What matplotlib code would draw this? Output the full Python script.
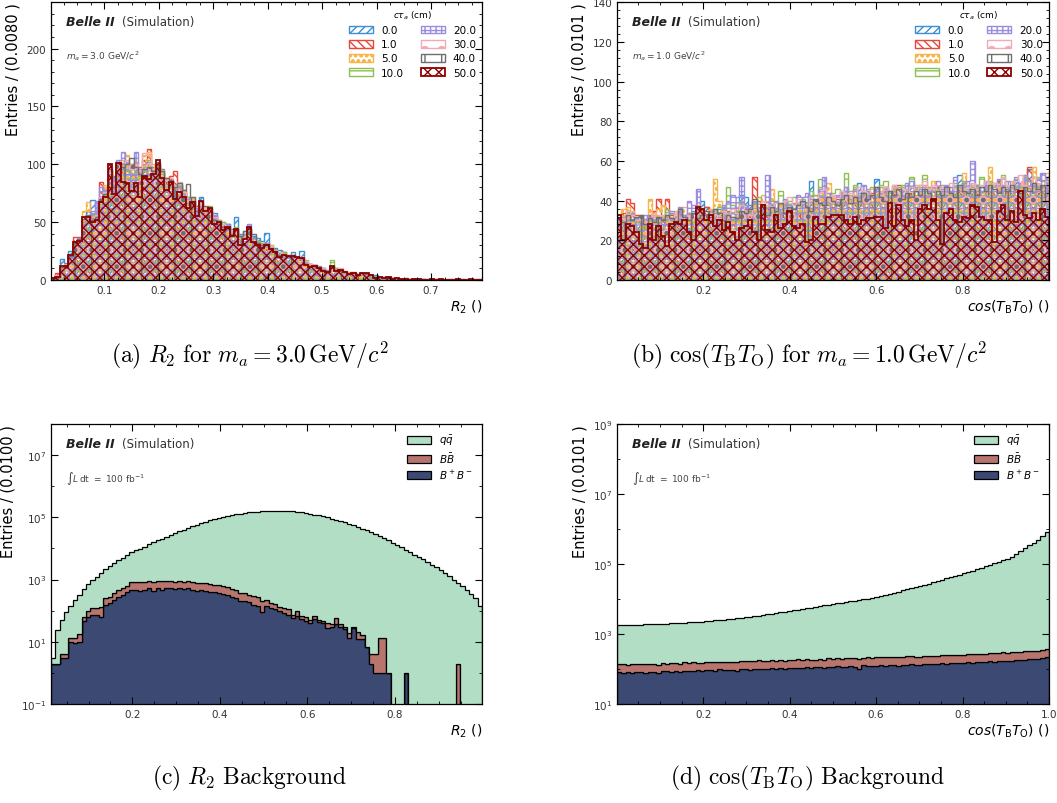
import numpy as np
import matplotlib.pyplot as plt
from matplotlib import ticker

# ---------------- (a) R2 signal, m_a = 3.0 GeV/c^2 ----------------
ctau_labels = ['0.0', '1.0', '5.0', '10.0', '20.0', '30.0', '40.0', '50.0']

r2_ct00 = [1, 4, 18, 15, 25, 30, 36, 50, 60, 69,
           62, 72, 80, 88, 90, 95, 100, 92, 98, 95,
           88, 96, 92, 98, 100, 96, 85, 80, 78, 82,
           75, 70, 68, 64, 72, 62, 60, 58, 52, 50,
           48, 44, 54, 40, 42, 45, 38, 36, 34, 41,
           30, 28, 26, 24, 22, 24, 20, 25, 16, 14,
           13, 12, 10, 9, 12, 10, 8, 7, 6, 7,
           5, 6, 5, 4, 4, 3, 3, 2, 2, 2,
           1, 2, 1, 1, 0, 1, 0, 1, 1, 0,
           0, 1, 0, 0, 1, 0, 0, 0, 0]
r2_ct01 = [2, 6, 10, 14, 20, 37, 37, 52, 50, 55,
           60, 85, 78, 92, 88, 96, 98, 94, 100, 96,
           98, 104, 113, 96, 98, 92, 88, 90, 94, 80,
           78, 72, 66, 64, 66, 60, 58, 55, 50, 46,
           44, 40, 42, 36, 38, 40, 32, 34, 30, 32,
           28, 26, 22, 24, 20, 22, 18, 17, 15, 12,
           13, 11, 10, 8, 10, 9, 7, 8, 6, 5,
           5, 4, 5, 3, 3, 2, 3, 2, 2, 1,
           1, 1, 1, 0, 1, 1, 0, 0, 1, 0,
           0, 0, 1, 0, 0, 0, 0, 1, 1]
r2_ct05 = [1, 3, 8, 14, 22, 30, 34, 60, 67, 55,
           58, 70, 82, 96, 86, 100, 104, 108, 100, 102,
           94, 108, 111, 100, 98, 95, 88, 84, 80, 82,
           76, 70, 72, 62, 66, 63, 58, 52, 50, 48,
           46, 42, 44, 38, 40, 38, 35, 30, 32, 28,
           30, 26, 24, 22, 20, 22, 18, 20, 15, 14,
           12, 11, 9, 8, 10, 9, 8, 6, 7, 5,
           4, 5, 4, 3, 3, 3, 2, 2, 1, 2,
           1, 1, 1, 1, 0, 1, 0, 0, 0, 1,
           0, 1, 0, 0, 0, 1, 0, 0, 0]
r2_ct10 = [1, 3, 10, 13, 20, 32, 35, 50, 52, 56,
           60, 70, 76, 94, 82, 100, 96, 100, 92, 94,
           90, 98, 104, 96, 95, 92, 86, 80, 78, 82,
           76, 72, 64, 60, 64, 58, 64, 54, 52, 50,
           48, 42, 46, 38, 40, 44, 36, 34, 32, 30,
           28, 26, 22, 24, 22, 20, 20, 18, 17, 14,
           13, 11, 9, 8, 17, 10, 8, 7, 6, 6,
           5, 5, 4, 3, 3, 3, 2, 2, 2, 1,
           1, 1, 1, 0, 1, 0, 1, 0, 0, 0,
           1, 0, 0, 0, 1, 0, 0, 0, 0]
r2_ct20 = [1, 3, 9, 12, 20, 30, 36, 52, 55, 60,
           68, 80, 78, 94, 88, 104, 111, 102, 98, 111,
           96, 100, 102, 94, 96, 88, 86, 82, 78, 80,
           74, 70, 68, 62, 64, 60, 60, 56, 50, 46,
           48, 42, 44, 38, 40, 48, 36, 32, 30, 32,
           28, 24, 22, 22, 20, 22, 19, 18, 15, 14,
           12, 11, 10, 8, 11, 9, 8, 7, 5, 6,
           5, 5, 4, 4, 3, 3, 2, 2, 2, 1,
           1, 1, 0, 1, 0, 1, 1, 0, 0, 0,
           0, 0, 1, 0, 0, 0, 0, 0, 1]
r2_ct30 = [2, 4, 11, 13, 22, 31, 35, 52, 54, 52,
           56, 72, 76, 98, 84, 100, 98, 104, 96, 100,
           94, 110, 108, 96, 100, 90, 86, 88, 82, 85,
           76, 68, 66, 60, 66, 62, 60, 54, 50, 48,
           46, 42, 42, 36, 38, 44, 34, 32, 30, 30,
           28, 26, 24, 22, 22, 20, 18, 20, 16, 14,
           12, 11, 10, 8, 12, 9, 10, 7, 6, 5,
           5, 5, 4, 4, 3, 3, 2, 2, 1, 1,
           1, 1, 1, 0, 1, 0, 0, 1, 0, 0,
           0, 1, 0, 0, 0, 0, 1, 0, 0]
r2_ct40 = [2, 3, 11, 12, 21, 32, 35, 53, 56, 52,
           54, 70, 74, 96, 80, 102, 98, 100, 105, 98,
           92, 96, 98, 94, 102, 94, 88, 86, 80, 84,
           78, 83, 72, 60, 68, 64, 62, 52, 50, 46,
           46, 40, 44, 38, 42, 44, 40, 32, 30, 31,
           28, 25, 22, 22, 21, 20, 20, 19, 14, 12,
           12, 10, 9, 8, 12, 9, 9, 7, 5, 6,
           4, 6, 5, 4, 3, 3, 2, 3, 1, 2,
           1, 1, 0, 1, 1, 0, 0, 1, 0, 1,
           0, 0, 0, 1, 0, 0, 1, 0, 0]
r2_ct50 = [2, 3, 12, 12, 22, 33, 34, 54, 54, 50,
           52, 67, 72, 100, 74, 101, 85, 84, 77, 84,
           72, 90, 87, 92, 104, 88, 78, 85, 70, 76,
           72, 62, 67, 55, 68, 60, 62, 48, 50, 43,
           46, 38, 44, 30, 35, 46, 33, 30, 28, 30,
           27, 24, 20, 22, 21, 21, 20, 19, 13, 11,
           12, 10, 8, 7, 12, 8, 9, 7, 5, 6,
           4, 6, 6, 4, 2, 3, 2, 3, 1, 2,
           1, 1, 0, 1, 1, 0, 0, 1, 0, 1,
           0, 0, 0, 1, 0, 0, 1, 0, 0]

# ---------------- (b) cos(TB TO) signal, m_a = 1.0 GeV/c^2 ----------------
cos_ct00 = [33, 30, 32, 28, 30, 31, 26, 33, 32, 29,
            31, 28, 34, 30, 27, 33, 26, 35, 33, 40,
            37, 34, 35, 36, 37, 33, 30, 35, 43, 42,
            38, 31, 30, 36, 33, 37, 35, 34, 32, 38,
            36, 30, 40, 34, 50, 38, 42, 40, 35, 39,
            38, 41, 40, 36, 39, 49, 40, 41, 37, 51,
            44, 42, 40, 45, 38, 41, 43, 47, 39, 44,
            42, 45, 40, 46, 42, 45, 43, 47, 53, 44,
            40, 46, 42, 45, 44, 48, 42, 48, 43, 46,
            44, 50, 45, 47, 56, 44, 47, 45, 52]
cos_ct01 = [30, 34, 41, 39, 33, 30, 28, 33, 35, 41,
            30, 41, 33, 29, 35, 30, 34, 31, 29, 36,
            37, 35, 30, 33, 31, 35, 28, 34, 30, 36,
            35, 52, 40, 38, 36, 32, 35, 37, 34, 36,
            33, 35, 32, 38, 36, 40, 42, 43, 38, 40,
            41, 38, 45, 40, 43, 38, 41, 39, 44, 47,
            40, 47, 42, 45, 48, 41, 43, 44, 42, 46,
            40, 44, 45, 47, 43, 41, 45, 42, 46, 44,
            45, 43, 48, 44, 47, 42, 45, 50, 46, 44,
            43, 47, 45, 48, 57, 46, 44, 47, 50]
cos_ct05 = [30, 36, 37, 35, 32, 33, 30, 41, 34, 36,
            38, 33, 32, 35, 30, 37, 34, 32, 38, 33,
            30, 36, 51, 40, 35, 33, 32, 37, 30, 35,
            33, 38, 36, 43, 40, 46, 35, 38, 40, 36,
            34, 38, 37, 36, 40, 38, 42, 44, 49, 42,
            40, 44, 39, 43, 46, 41, 44, 45, 40, 43,
            45, 46, 42, 47, 44, 43, 46, 45, 48, 44,
            42, 47, 50, 45, 44, 46, 43, 45, 47, 54,
            45, 46, 48, 44, 47, 57, 43, 48, 46, 45,
            50, 47, 49, 53, 46, 57, 48, 47, 54]
cos_ct10 = [28, 32, 34, 30, 29, 31, 27, 30, 33, 29,
            31, 36, 30, 32, 34, 30, 33, 29, 31, 35,
            32, 30, 34, 37, 36, 47, 38, 35, 40, 37,
            36, 39, 42, 38, 37, 40, 36, 45, 38, 40,
            42, 39, 41, 38, 45, 43, 51, 45, 42, 44,
            46, 43, 54, 45, 48, 44, 42, 46, 47, 45,
            48, 50, 44, 46, 47, 48, 45, 52, 46, 48,
            53, 47, 45, 46, 48, 44, 47, 49, 48, 50,
            46, 48, 47, 52, 46, 50, 48, 49, 53, 47,
            45, 51, 49, 52, 47, 48, 52, 50, 49]
cos_ct20 = [30, 32, 30, 34, 31, 29, 33, 32, 30, 31,
            28, 33, 35, 32, 37, 33, 40, 38, 46, 34,
            33, 35, 36, 32, 38, 40, 43, 42, 52, 38,
            36, 40, 37, 35, 53, 38, 40, 36, 41, 38,
            39, 43, 42, 44, 41, 40, 46, 52, 44, 42,
            43, 45, 47, 41, 46, 44, 48, 45, 43, 46,
            44, 47, 45, 48, 44, 46, 49, 50, 47, 46,
            48, 45, 47, 50, 46, 48, 47, 52, 47, 49,
            50, 60, 48, 47, 50, 46, 49, 51, 48, 50,
            47, 52, 49, 53, 50, 48, 51, 54, 52]
cos_ct30 = [28, 31, 35, 33, 30, 32, 29, 31, 34, 30,
            33, 31, 29, 34, 32, 30, 33, 31, 36, 30,
            32, 34, 33, 31, 35, 33, 36, 34, 38, 35,
            33, 37, 35, 40, 38, 36, 39, 37, 40, 42,
            38, 41, 39, 36, 42, 40, 44, 46, 41, 43,
            40, 45, 42, 44, 43, 47, 45, 41, 46, 44,
            43, 47, 45, 48, 44, 46, 43, 47, 45, 48,
            50, 46, 48, 45, 47, 44, 49, 46, 48, 45,
            47, 49, 46, 48, 50, 46, 49, 47, 52, 48,
            46, 50, 53, 48, 47, 52, 49, 46, 50]
cos_ct40 = [31, 29, 33, 30, 32, 33, 28, 31, 29, 32,
            30, 33, 31, 29, 36, 32, 30, 34, 31, 33,
            35, 32, 36, 34, 30, 33, 32, 31, 35, 34,
            36, 41, 35, 38, 33, 37, 35, 39, 34, 37,
            36, 38, 40, 37, 35, 41, 39, 38, 42, 40,
            38, 41, 43, 39, 42, 40, 44, 41, 43, 47,
            42, 40, 45, 43, 46, 41, 44, 42, 45, 43,
            46, 44, 41, 45, 43, 47, 44, 42, 48, 45,
            44, 46, 43, 47, 45, 48, 46, 44, 47, 45,
            48, 46, 44, 47, 45, 49, 46, 48, 40]
cos_ct50 = [33, 20, 28, 27, 24, 18, 16, 28, 20, 27,
            22, 17, 28, 29, 28, 30, 24, 20, 37, 36,
            30, 33, 27, 30, 25, 29, 24, 20, 26, 27,
            30, 24, 20, 38, 25, 24, 33, 26, 28, 35,
            27, 26, 28, 19, 20, 32, 28, 28, 32, 33,
            33, 33, 30, 28, 32, 28, 30, 31, 31, 32,
            32, 26, 39, 27, 38, 30, 27, 30, 20, 36,
            38, 36, 41, 30, 18, 34, 36, 30, 29, 32,
            31, 38, 37, 32, 30, 30, 19, 35, 38, 30,
            35, 29, 45, 33, 31, 34, 30, 36, 32]

# ---------------- (c) R2 background ----------------
r2_bpbm = [2, 2, 3, 3, 10, 9, 10, 48, 65, 74,
           75, 65, 155, 175, 222, 283, 324, 410, 466, 466,
           440, 466, 525, 440, 540, 466, 525, 525, 490, 540,
           500, 525, 466, 440, 466, 440, 410, 390, 360, 340,
           310, 270, 260, 210, 200, 185, 155, 140, 92, 140,
           120, 110, 100, 85, 75, 60, 70, 55, 45, 40,
           55, 42, 40, 28, 30, 38, 30, 25, 13, 27,
           12, 12, 7, 2, 1, 1, 1, 1, 0, 0,
           0, 1, 0, 0, 0, 0, 0, 0, 0, 0,
           0, 0, 0, 0, 0, 0, 0, 0, 0]
r2_bbbar = [0, 0, 1, 1, 3, 4, 8, 17, 35, 46,
            45, 70, 95, 108, 158, 167, 196, 230, 384, 394,
            380, 374, 375, 380, 390, 404, 375, 355, 370, 360,
            350, 355, 354, 340, 324, 320, 310, 300, 290, 260,
            250, 230, 200, 170, 160, 145, 135, 138, 112, 84,
            60, 50, 30, 35, 35, 15, 25, 15, 18, 10,
            12, 10, 8, 12, 6, 22, 6, 5, 6, 3,
            8, 4, 0, 2, 3, 12, 12, 0, 0, 0,
            0, 0, 0, 0, 0, 0, 0, 0, 0, 0,
            0, 0, 0, 2, 0, 0, 0, 0, 0]
r2_qqbar = [1, 22, 47, 89, 126, 200, 302, 417, 603, 832,
            1120, 1480, 1900, 2400, 3020, 3720, 4570, 5500, 6600, 7760,
            9120, 10700, 12600, 14800, 17400, 19950, 22900, 26300, 30200, 34700,
            39800, 45700, 51300, 57500, 64600, 72400, 79400, 87100, 95500, 102300,
            109600, 117500, 125900, 131800, 138000, 144500, 147900, 151400, 154900, 158500,
            162200, 162200, 162200, 162200, 158500, 154900, 151400, 144500, 138000, 131800,
            123000, 114800, 107200, 100000, 91200, 83200, 75900, 69200, 61700, 55000,
            49000, 43700, 38000, 33100, 28800, 25100, 21400, 18200, 15500, 13200,
            11000, 9120, 7590, 6310, 5370, 4470, 3720, 3020, 2460, 2000,
            1590, 1260, 1000, 776, 603, 457, 339, 251, 145]

# ---------------- (d) cos(TB TO) background ----------------
cos_bpbm = [80, 78, 82, 76, 80, 84, 79, 83, 81, 77,
            86, 85, 84, 88, 82, 90, 87, 89, 92, 88,
            95, 93, 90, 97, 92, 96, 94, 88, 99, 97,
            96, 100, 103, 98, 101, 105, 100, 104, 99, 108,
            106, 110, 104, 112, 108, 111, 115, 109, 117, 113,
            120, 114, 118, 122, 116, 103, 128, 124, 120, 126,
            130, 125, 132, 128, 122, 134, 130, 137, 131, 127,
            140, 136, 142, 138, 145, 141, 148, 144, 150, 146,
            155, 152, 158, 162, 156, 165, 160, 168, 172, 166,
            175, 180, 178, 185, 190, 188, 196, 200, 215]
cos_bbbar = [55, 58, 52, 60, 56, 54, 62, 57, 59, 55,
             61, 58, 63, 60, 57, 64, 62, 66, 59, 63,
             65, 62, 68, 64, 70, 66, 63, 69, 67, 72,
             70, 68, 74, 71, 66, 75, 73, 77, 70, 76,
             74, 79, 72, 80, 77, 75, 82, 78, 85, 80,
             83, 79, 86, 82, 88, 95, 84, 90, 87, 92,
             89, 94, 91, 86, 96, 92, 98, 95, 93, 100,
             97, 102, 99, 105, 101, 108, 104, 110, 106, 112,
             115, 110, 118, 114, 120, 117, 124, 121, 128, 125,
             130, 134, 128, 138, 135, 142, 140, 148, 152]
cos_qqbar = [1660, 1670, 1680, 1690, 1700, 1720, 1740, 1760, 1780, 1800,
             1830, 1850, 1880, 1900, 1930, 1960, 2000, 2030, 2070, 2110,
             2150, 2210, 2280, 2340, 2410, 2480, 2560, 2640, 2720, 2800,
             2900, 3030, 3170, 3300, 3450, 3600, 3780, 3970, 4150, 4350,
             4550, 4780, 5000, 5250, 5500, 5780, 6050, 6350, 6650, 6950,
             7300, 7650, 8000, 8400, 8800, 9200, 9650, 10100, 10600, 11100,
             11800, 12800, 13800, 14900, 16000, 17300, 18700, 20100, 21800, 23500,
             25300, 27500, 30000, 32500, 35500, 38500, 42000, 45500, 49500, 54000,
             59000, 64500, 71000, 78000, 86000, 95000, 105000, 116000, 128000, 140000,
             160000, 190000, 230000, 280000, 340000, 410000, 500000, 650000, 830000]

sig_colors = ['#3d8fd6', '#e8473a', '#f7b54c', '#8cc152',
              '#9a8ce0', '#f5a9b4', '#6e6e6e', '#8b0000']
sig_hatches = ['////', '\\\\\\\\', 'ooo', '--', '+++', 'o', '|.', 'xxx']
bkg_colors = {'bpbm': '#3c4a73', 'bbbar': '#b8756e', 'qqbar': '#b1dec4'}


def style_axes(ax, log=False):
    ax.tick_params(which='both', direction='in', top=True, right=True,
                   labelsize=7.5, labelcolor='#333333')
    ax.tick_params(which='major', length=5, width=0.8)
    ax.tick_params(which='minor', length=2.5, width=0.6)
    ax.xaxis.set_minor_locator(ticker.AutoMinorLocator(4))
    if not log:
        ax.yaxis.set_minor_locator(ticker.AutoMinorLocator(5))
    for s in ax.spines.values():
        s.set_linewidth(0.9)


def belle_label(ax, extra):
    ax.text(0.035, 0.93, 'Belle II', transform=ax.transAxes, fontsize=9,
            fontweight='bold', fontstyle='italic', color='#222222', va='center')
    ax.text(0.165, 0.93, '(Simulation)', transform=ax.transAxes, fontsize=8.5,
            color='#333333', va='center')
    ax.text(0.035, 0.81, extra, transform=ax.transAxes, fontsize=6.5,
            color='#444444', va='center')


def draw_signal(ax, edges, series, mass_text, ylim, xlabel, ylabel):
    for counts, c, h, lab in zip(series, sig_colors, sig_hatches, ctau_labels):
        lw = 1.3 if lab == '50.0' else 1.0
        ax.stairs(counts, edges, fill=True, facecolor='none', edgecolor=c,
                  hatch=h, linewidth=lw, label=lab)
    ax.set_xlim(edges[0], edges[-1])
    ax.set_ylim(*ylim)
    style_axes(ax)
    belle_label(ax, mass_text)
    ax.legend(ncol=2, loc='upper right', frameon=False, fontsize=7.5,
              title=r'$c\tau_a$ (cm)', title_fontsize=6.5, handlelength=2.3,
              handleheight=0.8, columnspacing=1.6, labelspacing=0.4,
              borderaxespad=0.2)
    ax.set_xlabel(xlabel, loc='right', fontsize=10, labelpad=2)
    ax.set_ylabel(ylabel, loc='top', fontsize=10.5)


def draw_background(ax, edges, bpbm, bbbar, qqbar, ylim, yticks, xlabel, ylabel):
    bottom = np.zeros(len(bpbm))
    layers = [(bpbm, bkg_colors['bpbm'], r'$B^+B^-$'),
              (bbbar, bkg_colors['bbbar'], r'$B\bar{B}$'),
              (qqbar, bkg_colors['qqbar'], r'$q\bar{q}$')]
    handles = []
    for counts, c, lab in layers:
        top = bottom + np.asarray(counts, dtype=float)
        h = ax.stairs(top, edges, baseline=bottom, fill=True, facecolor=c,
                      edgecolor='black', linewidth=0.9, label=lab)
        handles.append(h)
        bottom = top
    ax.set_yscale('log')
    ax.set_xlim(edges[0], edges[-1])
    ax.set_ylim(*ylim)
    style_axes(ax, log=True)
    ax.yaxis.set_major_locator(ticker.FixedLocator(yticks))
    ax.yaxis.set_major_formatter(ticker.LogFormatterSciNotation())
    ax.yaxis.set_minor_locator(ticker.LogLocator(base=10, subs=(1.0,), numticks=30))
    ax.yaxis.set_minor_formatter(ticker.NullFormatter())
    belle_label(ax, r'$\int L\,\mathrm{dt}\ =\ 100\ \mathrm{fb}^{-1}$')
    ax.legend(handles[::-1], [h.get_label() for h in handles[::-1]],
              loc='upper right', frameon=False, fontsize=7.5, handlelength=2.3,
              handleheight=0.8, labelspacing=0.3, borderaxespad=0.5)
    ax.set_xlabel(xlabel, loc='right', fontsize=10, labelpad=2)
    ax.set_ylabel(ylabel, loc='top', fontsize=10.5)


fig = plt.figure(figsize=(10.57, 8.04), dpi=100)
ax_a = fig.add_axes([0.0483, 0.6505, 0.4078, 0.3455])
ax_b = fig.add_axes([0.5837, 0.6505, 0.4087, 0.3455])
ax_c = fig.add_axes([0.0483, 0.1231, 0.4078, 0.3483])
ax_d = fig.add_axes([0.5837, 0.1231, 0.4087, 0.3483])

cos_label = r'$cos(T_{\mathrm{B}}T_{\mathrm{O}})$ ()'

edges_a = np.linspace(0.002, 0.794, len(r2_ct50) + 1)
draw_signal(ax_a, edges_a,
            [r2_ct00, r2_ct01, r2_ct05, r2_ct10, r2_ct20, r2_ct30, r2_ct40, r2_ct50],
            r'$m_a = 3.0$ GeV/$c^2$', (0, 240), r'$R_2$ ()', 'Entries / (0.0080 )')

edges_b = np.linspace(0.0003, 0.9997, len(cos_ct50) + 1)
draw_signal(ax_b, edges_b,
            [cos_ct00, cos_ct01, cos_ct05, cos_ct10, cos_ct20, cos_ct30, cos_ct40, cos_ct50],
            r'$m_a = 1.0$ GeV/$c^2$', (0, 140), cos_label, 'Entries / (0.0101 )')

edges_c = np.linspace(0.0143, 0.999, len(r2_qqbar) + 1)
draw_background(ax_c, edges_c, r2_bpbm, r2_bbbar, r2_qqbar, (0.1, 1e8),
                [1e-1, 1e1, 1e3, 1e5, 1e7], r'$R_2$ ()', 'Entries / (0.0100 )')

edges_d = np.linspace(0.0003, 1.0, len(cos_qqbar) + 1)
draw_background(ax_d, edges_d, cos_bpbm, cos_bbbar, cos_qqbar, (10, 1e9),
                [1e1, 1e3, 1e5, 1e7, 1e9], cos_label, 'Entries / (0.0101 )')

cap_kw = dict(ha='center', va='center', fontsize=17, math_fontfamily='cm')
fig.text(0.2365, 0.5585, r'$\mathrm{(a)}\ R_2\ \mathrm{for}\ m_a = 3.0\,\mathrm{GeV}/c^2$', **cap_kw)
fig.text(0.766, 0.5585, r'$\mathrm{(b)}\ \cos(T_\mathrm{B}T_\mathrm{O})\ \mathrm{for}\ m_a = 1.0\,\mathrm{GeV}/c^2$', **cap_kw)
fig.text(0.2365, 0.032, r'$\mathrm{(c)}\ R_2\ \mathrm{Background}$', **cap_kw)
fig.text(0.764, 0.032, r'$\mathrm{(d)}\ \cos(T_\mathrm{B}T_\mathrm{O})\ \mathrm{Background}$', **cap_kw)

fig.savefig('out.png', dpi=100)
